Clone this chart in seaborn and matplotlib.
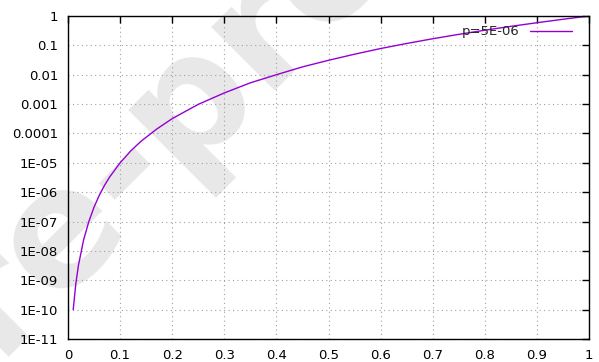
# gnuplot-style log plot recreated with seaborn
import matplotlib
matplotlib.use("Agg")
import matplotlib.pyplot as plt
import matplotlib.ticker as mticker
import seaborn as sns
import pandas as pd

# ==========================
# Data
# ==========================

x_vals = [0.01, 0.015, 0.02, 0.03, 0.04, 0.05, 0.06, 0.07, 0.08, 0.1,
          0.12, 0.14, 0.17, 0.2, 0.25, 0.3, 0.35, 0.4, 0.45, 0.5,
          0.55, 0.6, 0.65, 0.7, 0.75, 0.8, 0.85, 0.9, 0.95, 1.0]
y_vals = [1.0e-10, 7.6e-10, 3.2e-9, 2.4e-8, 1.0e-7, 3.1e-7, 7.8e-7, 1.7e-6, 3.3e-6, 1.0e-5,
          2.5e-5, 5.4e-5, 1.4e-4, 3.2e-4, 9.8e-4, 2.4e-3, 5.3e-3, 1.0e-2, 1.85e-2, 3.1e-2,
          5.0e-2, 7.8e-2, 0.116, 0.168, 0.237, 0.328, 0.444, 0.59, 0.774, 1.0]
series_label = "p=5E-06"

x_ticks = [0, 0.1, 0.2, 0.3, 0.4, 0.5, 0.6, 0.7, 0.8, 0.9, 1]
x_tick_labels = ["0", "0.1", "0.2", "0.3", "0.4", "0.5", "0.6", "0.7", "0.8", "0.9", "1"]
y_ticks = [1, 0.1, 0.01, 0.001, 0.0001, 1e-5, 1e-6, 1e-7, 1e-8, 1e-9, 1e-10, 1e-11]
y_tick_labels = ["1", "0.1", "0.01", "0.001", "0.0001", "1E-05", "1E-06",
                 "1E-07", "1E-08", "1E-09", "1E-10", "1E-11"]

df = pd.DataFrame({"x": x_vals, "y": y_vals})

# ==========================
# Plot
# ==========================

sns.set_style("white")
plt.rcParams["font.family"] = ["DejaVu Sans"]

fig = plt.figure(figsize=(5.99, 3.62), dpi=100)
ax = fig.add_axes([68 / 599, 1 - 339 / 362, 521 / 599, 323 / 362])
ax.set_facecolor("none")

# faint watermark behind the plot
fig.text(0.275, 0.66, "re-pro", fontsize=118, fontweight="bold", color="#e8e8e8",
         rotation=45, ha="center", va="center", zorder=-5)

sns.lineplot(data=df, x="x", y="y", ax=ax, color="#9400d3", linewidth=1.0,
             label=series_label)

ax.set_yscale("log")
ax.set_xlim(0, 1)
ax.set_ylim(1e-11, 1)

ax.set_xticks(x_ticks)
ax.set_xticklabels(x_tick_labels)
ax.set_yticks(y_ticks)
ax.set_yticklabels(y_tick_labels)
ax.yaxis.set_minor_locator(mticker.NullLocator())

ax.set_xlabel("")
ax.set_ylabel("")

ax.tick_params(axis="both", which="major", direction="in", length=5, width=1,
               top=True, right=True, labelsize=9.5, colors="black", pad=7)

for s in ax.spines.values():
    s.set_color("black")
    s.set_linewidth(1.0)

ax.grid(True, which="major", color="#a0a0a0", linestyle=(0, (1, 3)), linewidth=0.8)

leg = ax.legend(loc="upper right", frameon=False, markerfirst=False,
                handlelength=3.2, fontsize=9.5, borderaxespad=0.3,
                bbox_to_anchor=(0.985, 1.0))

fig.savefig("out.png", dpi=100)
